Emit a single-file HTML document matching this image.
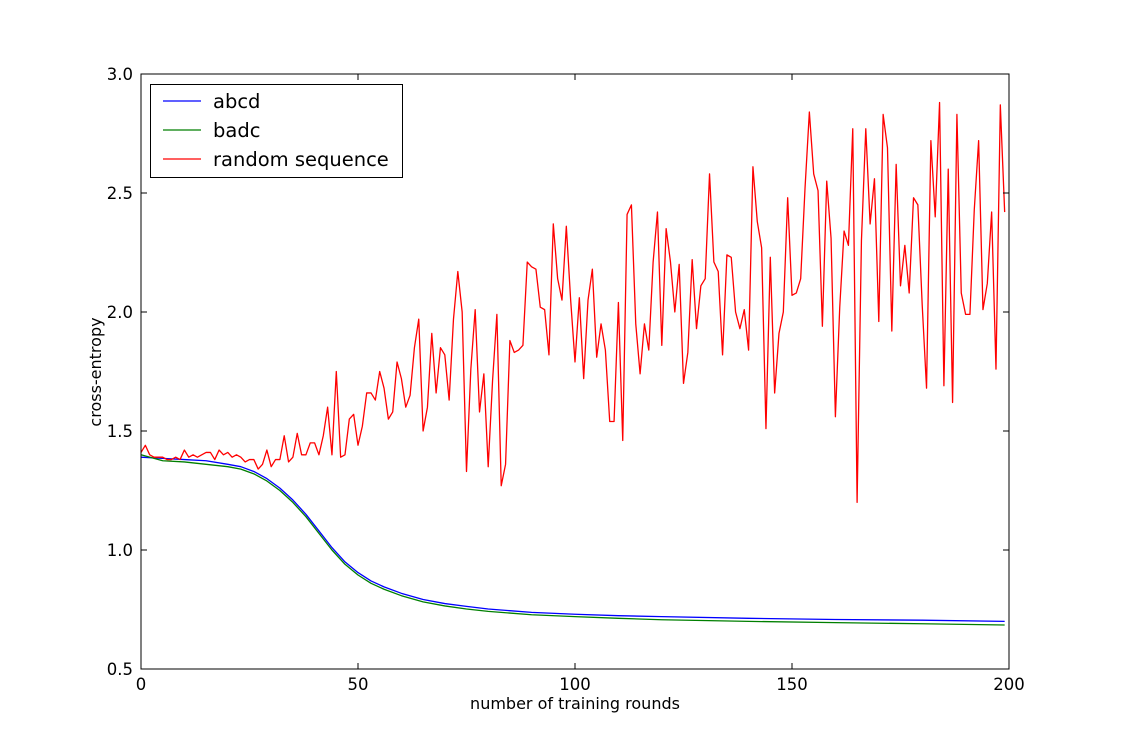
<!DOCTYPE html>
<html><head><meta charset="utf-8"><style>
body{margin:0;background:#fff;}
svg{display:block;font-family:"DejaVu Sans","Liberation Sans",sans-serif;}
</style></head><body>
<svg id="chart" width="1121" height="743"></svg>
<script>
const xTicks=[0,50,100,150,200];
const yTicks=[0.5,1.0,1.5,2.0,2.5,3.0];
const yTickLabels=["0.5","1.0","1.5","2.0","2.5","3.0"];
const smoothX=[0,5,10,15,20,23,26,29,32,35,38,41,44,47,50,53,56,60,65,70,75,80,85,90,100,110,120,140,160,180,199];
const abcd=[1.39,1.385,1.38,1.375,1.36,1.35,1.33,1.30,1.26,1.21,1.15,1.08,1.01,0.95,0.905,0.87,0.845,0.818,0.792,0.775,0.763,0.752,0.745,0.738,0.73,0.724,0.72,0.713,0.708,0.705,0.70];
const badc=[1.40,1.375,1.37,1.36,1.35,1.34,1.32,1.29,1.25,1.20,1.14,1.07,1.00,0.94,0.895,0.86,0.835,0.808,0.782,0.765,0.752,0.742,0.735,0.728,0.72,0.713,0.707,0.70,0.695,0.69,0.685];
const randomSeq=[1.41,1.44,1.40,1.39,1.39,1.39,1.38,1.38,1.39,1.38,1.42,1.39,1.40,1.39,1.40,1.41,1.41,1.38,1.42,1.40,1.41,1.39,1.40,1.39,1.37,1.38,1.38,1.34,1.36,1.42,1.35,1.38,1.38,1.48,1.37,1.39,1.49,1.40,1.40,1.45,1.45,1.40,1.48,1.60,1.40,1.75,1.39,1.40,1.55,1.57,1.44,1.52,1.66,1.66,1.63,1.75,1.68,1.55,1.58,1.79,1.72,1.60,1.65,1.85,1.97,1.50,1.60,1.91,1.66,1.85,1.82,1.63,1.97,2.17,2.00,1.33,1.76,2.01,1.58,1.74,1.35,1.71,1.99,1.27,1.36,1.88,1.83,1.84,1.86,2.21,2.19,2.18,2.02,2.01,1.82,2.37,2.14,2.05,2.36,2.05,1.79,2.06,1.72,2.05,2.18,1.81,1.95,1.84,1.54,1.54,2.04,1.46,2.41,2.45,1.95,1.74,1.95,1.84,2.21,2.42,1.86,2.35,2.21,2.00,2.20,1.70,1.83,2.22,1.93,2.11,2.14,2.58,2.21,2.17,1.82,2.24,2.23,2.00,1.93,2.01,1.84,2.61,2.38,2.27,1.51,2.23,1.66,1.91,2.00,2.48,2.07,2.08,2.14,2.52,2.84,2.58,2.51,1.94,2.55,2.31,1.56,2.02,2.34,2.28,2.77,1.20,2.30,2.77,2.37,2.56,1.96,2.83,2.69,1.92,2.62,2.11,2.28,2.08,2.48,2.45,2.03,1.68,2.72,2.40,2.88,1.69,2.60,1.62,2.83,2.08,1.99,1.99,2.43,2.72,2.01,2.12,2.42,1.76,2.87,2.42];

const L=141,R=1009,T=74,B=669;
const sx=v=>L+(v-0)/200*(R-L);
const sy=v=>B-(v-0.5)/2.5*(B-T);
const svg=document.getElementById('chart');
const NS='http://www.w3.org/2000/svg';
function mk(t,a,p){const e=document.createElementNS(NS,t);for(const k in a)e.setAttribute(k,a[k]);(p||svg).appendChild(e);return e;}

function line(xs,ys,color,name){
  const pts=ys.map((v,i)=>sx(xs[i]).toFixed(2)+','+sy(v).toFixed(2)).join(' ');
  const el=mk('polyline',{points:pts,fill:'none',stroke:color,'stroke-width':1.3,'stroke-linejoin':'round'});
  
  
}
line(smoothX,abcd,'#0000ff','series-abcd');
line(smoothX,badc,'#007f00','series-badc');
line(randomSeq.map((v,i)=>i),randomSeq,'#ff0000','series-random-sequence');

const frame=mk('rect',{x:L,y:T,width:R-L,height:B-T,fill:'none',stroke:'#000','stroke-width':1});



xTicks.forEach(v=>{
  const x=sx(v);
  mk('line',{x1:x,x2:x,y1:B,y2:B-6,stroke:'#000'});
  mk('line',{x1:x,x2:x,y1:T,y2:T+6,stroke:'#000'});
  const t=mk('text',{x:x,y:B+21,'text-anchor':'middle','font-size':16.5});
  t.textContent=v;
  
  
});
yTicks.forEach((v,i)=>{
  const y=sy(v);
  mk('line',{x1:L,x2:L+6,y1:y,y2:y,stroke:'#000'});
  mk('line',{x1:R,x2:R-6,y1:y,y2:y,stroke:'#000'});
  const t=mk('text',{x:L-8,y:y+6,'text-anchor':'end','font-size':16.5});
  t.textContent=yTickLabels[i];
  
  
});
const xl=mk('text',{x:(L+R)/2,y:709,'text-anchor':'middle','font-size':16});
xl.textContent='number of training rounds';


const yl=mk('text',{x:101,y:372,'text-anchor':'middle','font-size':16,transform:'rotate(-90 101 372)'});
yl.textContent='cross-entropy';



const lg=mk('g',{});


mk('rect',{x:150.5,y:84.5,width:252,height:93,fill:'#fff',stroke:'#000'},lg);
[['abcd','#0000ff',101],['badc','#007f00',130],['random sequence','#ff0000',159]].forEach(([n,c,y])=>{
  mk('line',{x1:163,x2:201,y1:y,y2:y,stroke:c,'stroke-width':1.3},lg);
  const t=mk('text',{x:213,y:y+7,'font-size':19.5},lg);
  t.textContent=n;
  
  
});
</script>
</body></html>
